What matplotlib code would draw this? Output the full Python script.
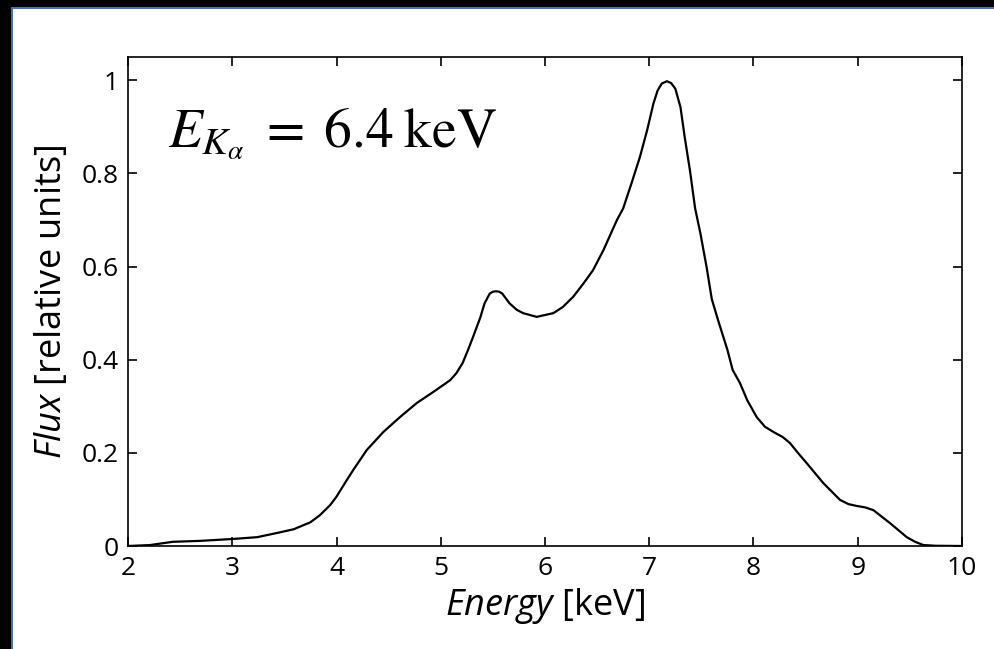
import matplotlib
matplotlib.use("Agg")
import matplotlib.pyplot as plt
from matplotlib.patches import Rectangle

plt.rcParams['font.family'] = ['Open Sans', 'DejaVu Sans']
plt.rcParams['mathtext.fontset'] = 'custom'
plt.rcParams['mathtext.it'] = 'Open Sans:italic'
plt.rcParams['mathtext.rm'] = 'Open Sans'

# spectrum
energy = [2.0, 2.21, 2.43, 2.69, 3.0, 3.24, 3.43, 3.59, 3.75, 3.84, 3.94,
          4.0, 4.1, 4.16, 4.29, 4.45, 4.61, 4.77, 4.93, 5.09, 5.15, 5.21,
          5.26, 5.31, 5.38, 5.42, 5.47, 5.5, 5.53, 5.56, 5.59, 5.66, 5.73,
          5.79, 5.92, 6.08, 6.17, 6.27, 6.37, 6.46, 6.56, 6.69, 6.75, 6.83,
          6.91, 6.98, 7.04, 7.08, 7.12, 7.17, 7.21, 7.25, 7.30, 7.34, 7.39,
          7.44, 7.49, 7.55, 7.60, 7.66, 7.75, 7.80, 7.87, 7.94, 8.03, 8.11,
          8.19, 8.28, 8.35, 8.43, 8.51, 8.67, 8.83, 8.91, 8.99, 9.07, 9.15,
          9.23, 9.31, 9.39, 9.47, 9.55, 9.63, 9.75, 10.0]
flux = [0.0, 0.002, 0.009, 0.011, 0.015, 0.019, 0.028, 0.036, 0.051, 0.066,
        0.088, 0.106, 0.142, 0.163, 0.206, 0.245, 0.277, 0.307, 0.331, 0.356,
        0.371, 0.393, 0.42, 0.449, 0.491, 0.521, 0.542, 0.546, 0.547, 0.546,
        0.542, 0.521, 0.507, 0.5, 0.492, 0.5, 0.513, 0.535, 0.564, 0.592,
        0.635, 0.70, 0.725, 0.779, 0.835, 0.893, 0.95, 0.978, 0.993, 0.998,
        0.994, 0.982, 0.942, 0.878, 0.807, 0.725, 0.672, 0.599, 0.53, 0.485,
        0.421, 0.378, 0.35, 0.313, 0.277, 0.256, 0.245, 0.234, 0.221, 0.199,
        0.178, 0.135, 0.099, 0.09, 0.086, 0.083, 0.077, 0.063, 0.049, 0.034,
        0.019, 0.009, 0.002, 0.0005, 0.0]

xticks = [2, 3, 4, 5, 6, 7, 8, 9, 10]
yticks = [0, 0.2, 0.4, 0.6, 0.8, 1]
ytick_labels = ['0', '0.2', '0.4', '0.6', '0.8', '1']

W, H = 995, 649
fig = plt.figure(figsize=(W / 100, H / 100), dpi=100)

# slide background drawn in a full-size axes (pixel coords, y down)
bg = fig.add_axes([0, 0, 1, 1], zorder=-1)
bg.set_xlim(0, W)
bg.set_ylim(H, 0)
bg.set_xticks([])
bg.set_yticks([])
for s in bg.spines.values():
    s.set_visible(False)
bg.set_facecolor('black')
bg.add_patch(Rectangle((11, 7), W, H, facecolor='#4a6fb0', edgecolor='none'))
bg.add_patch(Rectangle((13, 9), W, H, facecolor='white', edgecolor='none'))

ax = fig.add_axes([128 / W, 1 - 546 / H, (962 - 128) / W, (546 - 57) / H])

ax.plot(energy, flux, color='black', lw=1.6, solid_joinstyle='round')

ax.set_xlim(2, 10)
ax.set_ylim(0, 1.05)
ax.set_xticks(xticks)
ax.set_xticklabels([str(t) for t in xticks])
ax.set_yticks(yticks)
ax.set_yticklabels(ytick_labels)
ax.tick_params(direction='in', length=6.5, width=1.2, top=True, right=True,
               labelsize=19, pad=7)
for s in ax.spines.values():
    s.set_linewidth(1.2)

ax.set_xlabel(r'$Energy$ [keV]', fontsize=26, labelpad=4)
ax.set_ylabel(r'$Flux$ [relative units]', fontsize=26, labelpad=8)

ax.text(2.38, 0.856, r'$E_{K_\alpha}\;=\;6.4\;\mathrm{keV}$', fontsize=40,
        va='baseline', ha='left', math_fontfamily='stix')

fig.savefig('out.png', dpi=100)
